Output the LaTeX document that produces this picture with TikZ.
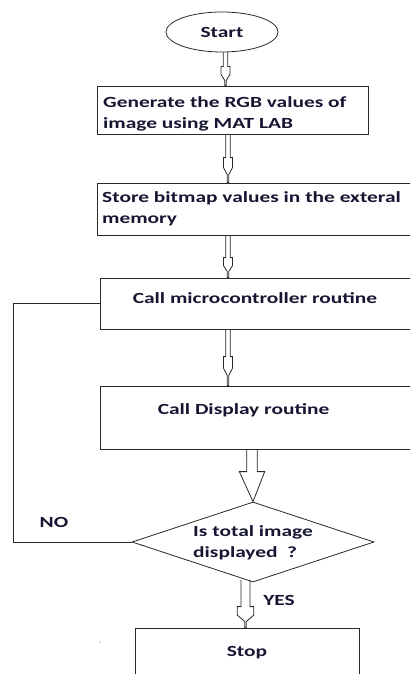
\documentclass[tikz,border=0pt]{standalone}
\usepackage{fontspec}
\setmainfont{Carlito}[FakeStretch=1.38]
\usetikzlibrary{shapes.geometric,calc}
\definecolor{ink}{RGB}{22,22,50}
\definecolor{rule}{RGB}{40,40,40}
\tikzset{
  lbl/.style={font=\fontsize{15.5}{21}\selectfont\bfseries, text=ink, inner sep=0pt},
  flow/.style={draw=rule, line width=0.8pt},
  boxed/.style={flow, rectangle, inner sep=0pt},
  % slim hollow block arrow: shaft half width, head half width,
  % head length, stub length, stub half width
  blockarrow/.style n args={5}{to path={
    let \p1=(\tikztostart), \p2=(\tikztotarget) in
    (\x1-#1,\y1) -- (\x1-#1,\y2+#3) -- (\x1-#2,\y2+#3) -- (\x1-#2,\y2+0.6*#3)
    -- (\x1-#5,\y2+#4) -- (\x1-#5,\y2) -- (\x1+#5,\y2) -- (\x1+#5,\y2+#4)
    -- (\x1+#2,\y2+0.6*#3) -- (\x1+#2,\y2+#3) -- (\x1+#1,\y2+#3) -- (\x1+#1,\y1)
  }},
  % wide hollow block arrow with a pointed head
  bigblock/.style n args={3}{to path={
    let \p1=(\tikztostart), \p2=(\tikztotarget) in
    (\x1-#1,\y1) -- (\x1-#1,\y2+#3) -- (\x1-#2,\y2+#3) -- (\x2,\y2)
    -- (\x1+#2,\y2+#3) -- (\x1+#1,\y2+#3) -- (\x1+#1,\y1)
  }},
}
\begin{document}
\begin{tikzpicture}[x=1pt,y=-1pt]
\useasboundingbox (0,0) rectangle (410,674);
\clip (0,0) rectangle (410,674);

% process blocks
\node[flow, ellipse, minimum width=112pt, minimum height=40pt, inner sep=0pt, lbl] (start) at (222,32) {Start};
\node[boxed, minimum width=271pt, minimum height=48pt] (box1) at (232.5,110) {};
\node[boxed, minimum width=333pt, minimum height=52pt] (box2) at (263.5,209) {};
\node[boxed, minimum width=330pt, minimum height=51pt] (box3) at (265,303.5) {};
\node[boxed, minimum width=330pt, minimum height=63pt] (box4) at (265,417.5) {};
\node[flow, diamond, aspect=3.02, minimum width=242pt, minimum height=80pt, inner sep=0pt] (dec) at (253,542) {};
\node[boxed, minimum width=224pt, minimum height=72pt] (stop) at (247,664) {};

% block texts
\node[lbl, anchor=west, align=left] (t1) at (103,113.5) {Generate the RGB values of\\image using MAT LAB};
\node[lbl, anchor=west, align=left] (t2) at (102,208.5) {Store bitmap values in the exteral\\memory};
\node[lbl] (t3) at (255,298) {Call microcontroller routine};
\node[lbl] (t4) at (243.5,410) {Call Display routine};
\node[lbl, align=left] (t6) at (253,543) {Is total image\\displayed~~?};
\node[lbl] (t5) at (247,653) {Stop};
\node[lbl] (no) at (54,522) {NO};
\node[lbl] (yes) at (279,600) {YES};

% arrow columns
\coordinate (colA) at (225.5,0);
\coordinate (colB) at (228,0);
\coordinate (colC) at (252,0);
\coordinate (colD) at (245.5,0);

% connectors
\draw[flow, blockarrow={2.2pt}{4.5pt}{19pt}{5pt}{0.7pt}] (start.south -| colA) to (box1.north -| colA);
\draw[flow, blockarrow={2.2pt}{4.5pt}{25pt}{8pt}{0.7pt}] (box1.south -| colB) to (box2.north -| colB);
\draw[flow, blockarrow={2.2pt}{4.5pt}{20pt}{6pt}{0.7pt}] (box2.south -| colB) to (box3.north -| colB);
\draw[flow, blockarrow={2.2pt}{4.5pt}{29pt}{10pt}{0.7pt}] (box3.south -| colB) to (box4.north -| colB);
\draw[flow, bigblock={5.3pt}{12.7pt}{30pt}] (box4.south -| colC) to (dec.north);
\draw[flow, blockarrow={4.5pt}{8.3pt}{21pt}{6pt}{0.7pt}] ($(dec.south -| colD)+(0,-2.5)$) to (stop.north -| colD);
\draw[flow] (box3.west) -- ++(-86,0) |- (dec.west);

% stray speck
\fill[black!55] (100,642) circle (0.6);
\end{tikzpicture}
\end{document}
